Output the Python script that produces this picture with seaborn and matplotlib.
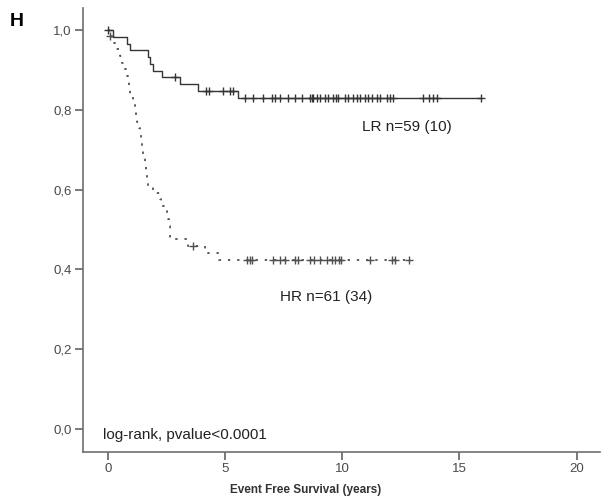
import numpy as np
import pandas as pd
import matplotlib
matplotlib.use("Agg")
import matplotlib.pyplot as plt
import seaborn as sns

# Low-risk group: event times (years) and survival level after each event
lr_event_times = [0.2, 0.8, 0.95, 1.7, 1.8, 1.9, 2.3, 3.08, 3.85, 5.55]
lr_levels = [0.983, 0.966, 0.949, 0.932, 0.915, 0.898, 0.881, 0.864, 0.847, 0.830]
lr_censored = [0.0, 2.86, 4.19, 4.32, 4.91, 5.21, 5.34, 5.85, 6.2, 6.62, 7.0, 7.14,
               7.35, 7.69, 7.99, 8.29, 8.63, 8.72, 8.76, 8.93, 9.06, 9.27, 9.40,
               9.62, 9.74, 9.83, 10.13, 10.26, 10.47, 10.64, 10.77, 10.98, 11.11,
               11.28, 11.5, 11.62, 11.92, 12.05, 12.18, 13.46, 13.68, 13.89, 14.06,
               15.9]

# High-risk group
hr_event_times = [0.05, 0.18, 0.30, 0.52, 0.58, 0.72, 0.79, 0.83, 0.88, 0.95,
                  1.06, 1.14, 1.20, 1.24, 1.32, 1.36, 1.40, 1.44, 1.50, 1.56, 1.62,
                  1.67, 1.71, 1.90, 2.20, 2.27, 2.50, 2.57, 2.61, 2.64, 2.66,
                  3.40, 4.15, 4.75]
hr_levels = [0.984, 0.967, 0.951, 0.934, 0.918, 0.902, 0.885, 0.869, 0.852, 0.836,
             0.820, 0.803, 0.787, 0.770, 0.754, 0.737, 0.718, 0.700, 0.682, 0.664, 0.646,
             0.628, 0.610, 0.592, 0.575, 0.558, 0.541, 0.525, 0.508, 0.492, 0.475,
             0.458, 0.441, 0.424]
hr_censored = [0.1, 3.62, 5.93, 6.04, 6.14, 7.06, 7.35, 7.56, 7.99, 8.09, 8.63,
               8.77, 9.06, 9.35, 9.56, 9.70, 9.84, 9.94, 11.2, 12.12, 12.26, 12.83]

x_ticks = [0, 5, 10, 15, 20]
y_ticks = [0.0, 0.2, 0.4, 0.6, 0.8, 1.0]
y_tick_labels = ["0,0", "0,2", "0,4", "0,6", "0,8", "1,0"]

sns.set_theme(style="white")
plt.rcParams["font.family"] = ["Liberation Sans", "DejaVu Sans"]

LINE = "#353535"
AXIS = "#707070"


def step_frame(event_times, levels, censored):
    t = [0.0] + list(event_times) + [max(censored)]
    s = [1.0] + list(levels) + [levels[-1]]
    return pd.DataFrame({"time": t, "surv": s})


def censor_frame(event_times, levels, censored):
    steps_t = np.array([0.0] + list(event_times))
    steps_s = np.array([1.0] + list(levels))
    idx = np.searchsorted(steps_t, np.array(censored), side="right") - 1
    return pd.DataFrame({"time": censored, "surv": steps_s[idx]})


fig = plt.figure(figsize=(6.09, 4.98), dpi=100)
ax = fig.add_axes([83 / 609, 1 - 452 / 498, (600 - 83) / 609, (452 - 8) / 498])

lr_df = step_frame(lr_event_times, lr_levels, lr_censored)
hr_df = step_frame(hr_event_times, hr_levels, hr_censored)

sns.lineplot(data=lr_df, x="time", y="surv", drawstyle="steps-post", estimator=None,
             sort=False, ax=ax, color=LINE, linewidth=1.0)
sns.lineplot(data=hr_df, x="time", y="surv", drawstyle="steps-post", estimator=None,
             sort=False, ax=ax, color="#505050", linewidth=1.3,
             linestyle=(0, (1.3, 3.8)))

for frame, col in [(censor_frame(lr_event_times, lr_levels, lr_censored), LINE),
                   (censor_frame(hr_event_times, hr_levels, hr_censored), "#505050")]:
    sns.scatterplot(data=frame, x="time", y="surv", marker="+", s=32,
                    linewidth=1.0, color=col, ax=ax, zorder=3)

ax.set_xlim(-1.07, 21.0)
ax.set_ylim(-0.058, 1.055)
ax.set_xticks(x_ticks)
ax.set_xticklabels([str(v) for v in x_ticks])
ax.set_yticks(y_ticks)
ax.set_yticklabels(y_tick_labels)

for side in ["top", "right"]:
    ax.spines[side].set_visible(False)
for side in ["left", "bottom"]:
    ax.spines[side].set_color(AXIS)
    ax.spines[side].set_linewidth(1.2)

ax.tick_params(axis="both", which="major", direction="out", length=6, width=1.1,
               color="#555555", labelsize=9.5, labelcolor="#4a4a4a", pad=2,
               left=True, bottom=True)

ax.set_ylabel("")
ax.set_xlabel("Event Free Survival (years)", fontsize=8.5, fontweight="bold",
              color="#333333")
ax.xaxis.set_label_coords(0.43, -0.072)

ax.text(10.85, 0.757, "LR n=59 (10)", fontsize=11, color="#222222",
        va="center", ha="left")
ax.text(7.35, 0.33, "HR n=61 (34)", fontsize=11, color="#222222",
        va="center", ha="left")
ax.text(-0.2, -0.015, "log-rank, pvalue<0.0001", fontsize=11, color="#222222",
        va="center", ha="left")

fig.text(10 / 609, 1 - 22 / 498, "H", fontsize=14, fontweight="bold",
         color="black", va="center", ha="left")

fig.savefig("out.png", dpi=100)
